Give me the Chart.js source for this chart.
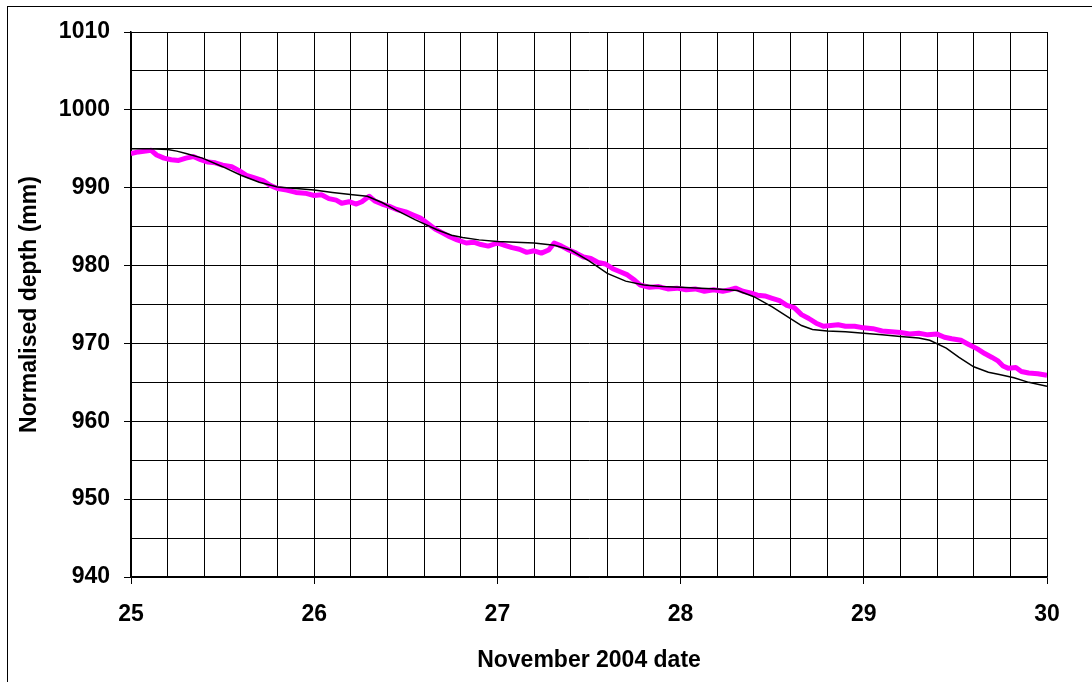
<!DOCTYPE html>
<html>
<head>
<meta charset="utf-8">
<script src="https://cdn.jsdelivr.net/npm/chart.js@4/dist/chart.umd.min.js"></script>
<style>
    body { margin: 0; background: #fff; }
    #wrap { position: relative; width: 1092px; height: 682px; overflow: hidden; }
    #frame { position: absolute; left: 7px; top: 6px; width: 1100px; height: 700px; border: 1px solid #000; pointer-events: none; }
</style>
</head>
<body>
<div id="wrap">
    <canvas id="depthChart" width="1092" height="682"></canvas>
    <div id="frame"></div>
</div>
<script>
// black trace (smooth)
const dayBlack = [25.00, 25.10, 25.20, 25.25, 25.30, 25.39, 25.50, 25.60, 25.70, 25.80, 25.90, 26.00,
    26.10, 26.21, 26.29, 26.37, 26.45, 26.55, 26.67, 26.75, 26.81, 26.90, 27.00, 27.10, 27.20, 27.31,
    27.40, 27.50, 27.60, 27.70, 27.80, 27.90, 28.00, 28.11, 28.20, 28.31, 28.40, 28.50, 28.60, 28.66,
    28.72, 28.80, 28.90, 29.00, 29.10, 29.20, 29.30, 29.36, 29.45, 29.52, 29.60, 29.68, 29.74, 29.82,
    29.90, 30.00];
const depthBlack = [995.0, 995.0, 994.9, 994.7, 994.4, 993.8, 992.7, 991.6, 990.7, 990.1, 989.9, 989.7,
    989.4, 989.1, 988.9, 988.1, 987.1, 985.9, 984.6, 983.9, 983.6, 983.3, 983.1, 983.0, 982.9, 982.6,
    982.0, 980.6, 979.0, 978.0, 977.5, 977.3, 977.2, 977.1, 977.0, 976.8, 976.0, 974.7, 973.2, 972.3,
    971.8, 971.6, 971.5, 971.3, 971.1, 970.9, 970.7, 970.4, 969.4, 968.2, 967.0, 966.3, 966.0, 965.6,
    965.0, 964.5];

// magenta trace (measured, noisy)
const dayPink = [25.00, 25.04, 25.08, 25.11, 25.14, 25.18, 25.22, 25.26, 25.30, 25.34, 25.38, 25.42,
    25.46, 25.50, 25.55, 25.59, 25.63, 25.67, 25.72, 25.76, 25.80, 25.85, 25.90, 25.95, 26.00, 26.04,
    26.08, 26.12, 26.15, 26.19, 26.23, 26.26, 26.30, 26.33, 26.37, 26.41, 26.45, 26.50, 26.54, 26.58,
    26.62, 26.66, 26.70, 26.74, 26.78, 26.83, 26.87, 26.91, 26.95, 27.00, 27.04, 27.08, 27.12, 27.16,
    27.20, 27.24, 27.28, 27.31, 27.35, 27.39, 27.43, 27.47, 27.51, 27.55, 27.59, 27.63, 27.67, 27.71,
    27.75, 27.78, 27.83, 27.88, 27.93, 27.98, 28.03, 28.08, 28.13, 28.18, 28.23, 28.27, 28.30, 28.34,
    28.38, 28.42, 28.46, 28.50, 28.54, 28.58, 28.62, 28.66, 28.70, 28.74, 28.78, 28.82, 28.86, 28.90,
    28.95, 29.00, 29.05, 29.10, 29.15, 29.20, 29.25, 29.30, 29.35, 29.40, 29.44, 29.48, 29.53, 29.57,
    29.62, 29.66, 29.70, 29.73, 29.76, 29.79, 29.83, 29.86, 29.90, 29.95, 30.00];
const depthPink = [994.4, 994.6, 994.7, 994.8, 994.2, 993.8, 993.6, 993.5, 993.8, 994.0, 993.6, 993.3,
    993.2, 992.9, 992.7, 992.2, 991.6, 991.3, 990.9, 990.3, 989.9, 989.7, 989.4, 989.3, 989.0, 989.1,
    988.6, 988.4, 988.0, 988.2, 987.9, 988.2, 988.9, 988.3, 987.9, 987.6, 987.2, 986.9, 986.5, 986.1,
    985.4, 984.7, 984.2, 983.7, 983.3, 982.9, 983.0, 982.7, 982.5, 982.9, 982.6, 982.3, 982.1, 981.7,
    981.9, 981.6, 982.0, 982.9, 982.5, 982.0, 981.6, 981.1, 980.9, 980.4, 980.2, 979.6, 979.2, 978.8,
    978.1, 977.5, 977.2, 977.3, 977.0, 977.1, 976.9, 977.0, 976.7, 976.9, 976.7, 976.9, 977.1, 976.7,
    976.5, 976.2, 976.1, 975.8, 975.5, 974.9, 974.6, 973.7, 973.2, 972.6, 972.2, 972.3, 972.4, 972.2,
    972.2, 972.0, 971.9, 971.6, 971.5, 971.4, 971.2, 971.3, 971.1, 971.2, 970.8, 970.6, 970.4, 969.9,
    969.3, 968.7, 968.2, 967.8, 967.1, 966.8, 966.9, 966.4, 966.2, 966.1, 965.9];

const xMin = 25, xMax = 30;
const yMin = 940, yMax = 1010;

const toPoints = (xs, ys) => xs.map((x, i) => ({ x: x, y: ys[i] }));
const isWhole = (v, step) => Math.abs(v / step - Math.round(v / step)) < 1e-6;

const tickFont = { family: 'Arial, "Liberation Sans", sans-serif', size: 23, weight: 'bold' };

const ctx = document.getElementById('depthChart').getContext('2d');
new Chart(ctx, {
    type: 'line',
    data: {
        datasets: [
            {
                data: toPoints(dayBlack, depthBlack),
                borderColor: '#000000',
                borderWidth: 1.5,
                pointRadius: 0,
                tension: 0
            },
            {
                data: toPoints(dayPink, depthPink),
                borderColor: '#ff00ff',
                borderWidth: 5,
                pointRadius: 0,
                tension: 0,
                borderJoinStyle: 'round'
            }
        ]
    },
    options: {
        responsive: false,
        animation: false,
        layout: { padding: { left: 0, top: 32, right: 45, bottom: 0 } },
        plugins: {
            legend: { display: false },
            tooltip: { enabled: false }
        },
        scales: {
            x: {
                type: 'linear',
                min: xMin,
                max: xMax,
                afterFit: (scale) => { scale.height = 105; },
                border: { color: '#000', width: 1.5 },
                grid: {
                    color: '#000',
                    lineWidth: 1,
                    tickLength: 7,
                    tickColor: (c) => isWhole(c.tick.value, 1) ? '#000' : 'rgba(0,0,0,0)'
                },
                ticks: {
                    stepSize: 0.2,
                    autoSkip: false,
                    maxRotation: 0,
                    padding: 17,
                    color: '#000',
                    font: tickFont,
                    callback: (v) => isWhole(v, 1) ? String(Math.round(v)) : ''
                },
                title: {
                    display: true,
                    text: 'November 2004 date',
                    color: '#000',
                    font: tickFont,
                    padding: { top: 0, bottom: 8 }
                }
            },
            y: {
                min: yMin,
                max: yMax,
                afterFit: (scale) => { scale.width = 131; },
                border: { color: '#000', width: 1.5 },
                grid: {
                    color: '#000',
                    lineWidth: 1,
                    tickLength: 7,
                    tickColor: (c) => isWhole(c.tick.value, 10) ? '#000' : 'rgba(0,0,0,0)'
                },
                ticks: {
                    stepSize: 5,
                    autoSkip: false,
                    padding: 14,
                    color: '#000',
                    font: tickFont,
                    callback: (v) => isWhole(v, 10) ? String(Math.round(v)) : ''
                },
                title: {
                    display: true,
                    text: 'Normalised depth (mm)',
                    color: '#000',
                    font: tickFont,
                    padding: { top: 16, bottom: 0 }
                }
            }
        }
    }
});
</script>
</body>
</html>
